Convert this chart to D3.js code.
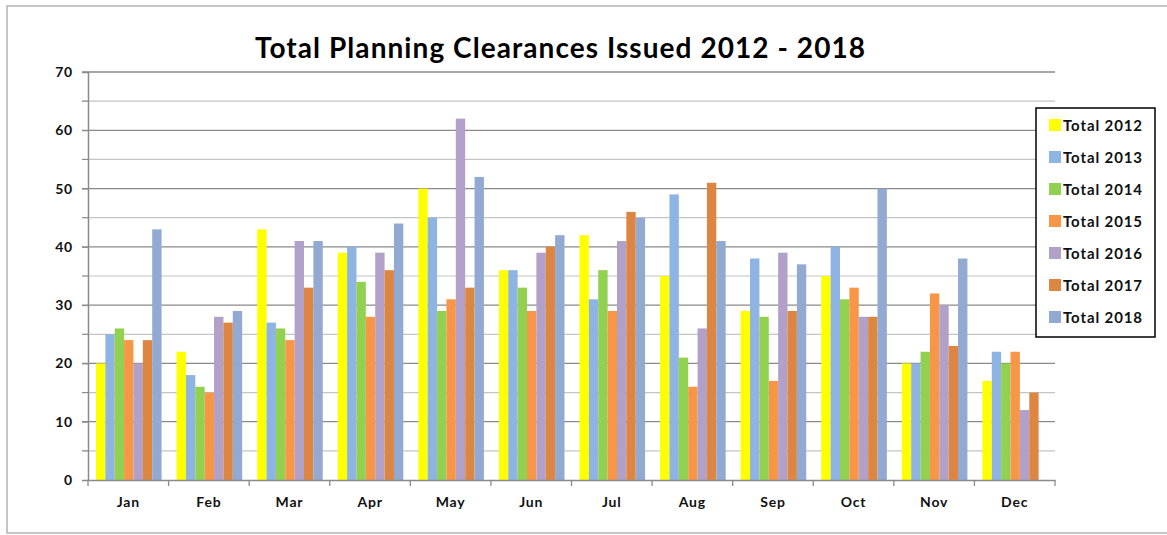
<!DOCTYPE html>
<html>
<head>
<meta charset="utf-8">
<script src="https://cdn.jsdelivr.net/npm/d3@7"></script>
<style>
  body { margin: 0; background: #fff; }
  text { font-family: Lato, "Open Sans", sans-serif; }
</style>
</head>
<body>
<div class="canvas"></div>
<script>
// data
const months = ['Jan', 'Feb', 'Mar', 'Apr', 'May', 'Jun', 'Jul', 'Aug', 'Sep', 'Oct', 'Nov', 'Dec'];
const seriesNames = ['Total 2012', 'Total 2013', 'Total 2014', 'Total 2015', 'Total 2016', 'Total 2017', 'Total 2018'];
const total2012 = [20, 22, 43, 39, 50, 36, 42, 35, 29, 35, 20, 17];
const total2013 = [25, 18, 27, 40, 45, 36, 31, 49, 38, 40, 20, 22];
const total2014 = [26, 16, 26, 34, 29, 33, 36, 21, 28, 31, 22, 20];
const total2015 = [24, 15, 24, 28, 31, 29, 29, 16, 17, 33, 32, 22];
const total2016 = [20, 28, 41, 39, 62, 39, 41, 26, 39, 28, 30, 12];
const total2017 = [24, 27, 33, 36, 33, 40, 46, 51, 29, 28, 23, 15];
const total2018 = [43, 29, 41, 44, 52, 42, 45, 41, 37, 50, 38, 0];
const yTicks = [0, 10, 20, 30, 40, 50, 60, 70];
const colors = ['#ffff00', '#8db4e2', '#92d050', '#f79646', '#b1a0c7', '#dc8642', '#92a9d1'];

const allSeries = [total2012, total2013, total2014, total2015, total2016, total2017, total2018];

const width = 1167, height = 535;
const margin = { top: 72, right: 112, bottom: 55, left: 88 };
const graphWidth = width - margin.left - margin.right;
const graphHeight = height - margin.top - margin.bottom;

const svg = d3.select('.canvas')
  .append('svg')
  .attr('width', width)
  .attr('height', height);

// outer chart frame
svg.append('rect')
  .attr('x', 7).attr('y', 6)
  .attr('width', width + 10).attr('height', 527)
  .attr('fill', 'none')
  .attr('stroke', '#b3b3b3')
  .attr('stroke-width', 1.5);

svg.append('text')
  .attr('x', 255).attr('y', 58)
  .attr('font-size', 28)
  .attr('font-weight', 'bold')
  .attr('fill', '#000')
  .attr('textLength', 610)
  .attr('lengthAdjust', 'spacing')
  .text('Total Planning Clearances Issued 2012 - 2018');

const graph = svg.append('g')
  .attr('transform', `translate(${margin.left}, ${margin.top})`);

//scales
const y = d3.scaleLinear().domain([0, 70]).range([graphHeight, 0]);
const x = d3.scaleBand().domain(months).range([0, graphWidth]).paddingInner(0).paddingOuter(0);
const xs = d3.scaleBand().domain(seriesNames).range([8, x.bandwidth() - 7]).padding(0);

// gridlines, minor then major
const minor = d3.range(5, 70, 10);
graph.selectAll('.minor').data(minor).enter().append('line')
  .attr('x1', -6).attr('x2', graphWidth)
  .attr('y1', d => y(d)).attr('y2', d => y(d))
  .attr('stroke', '#c4c4c4').attr('stroke-width', 1.2);
graph.selectAll('.major').data(yTicks.slice(1)).enter().append('line')
  .attr('x1', -6).attr('x2', graphWidth)
  .attr('y1', d => y(d)).attr('y2', d => y(d))
  .attr('stroke', '#8a8a8a').attr('stroke-width', 1.3);

// bars
const groups = graph.selectAll('.month')
  .data(months)
  .enter().append('g')
  .attr('transform', d => `translate(${x(d)}, 0)`);

groups.selectAll('rect')
  .data((m, i) => allSeries.map((s, k) => ({ name: seriesNames[k], value: s[i], color: colors[k] })))
  .enter().append('rect')
  .attr('x', d => xs(d.name))
  .attr('width', xs.bandwidth())
  .attr('y', d => y(d.value))
  .attr('height', d => graphHeight - y(d.value))
  .attr('fill', d => d.color);

// axes
const yAxis = d3.axisLeft(y).tickValues(yTicks).tickSize(6).tickPadding(9);
const yAxisGroup = graph.append('g').call(yAxis);
yAxisGroup.select('.domain').attr('stroke', '#8a8a8a').attr('stroke-width', 1.5);
yAxisGroup.selectAll('line').attr('stroke', '#8a8a8a');
yAxisGroup.selectAll('text')
  .attr('font-size', 14).attr('font-weight', 'bold')
  .attr('letter-spacing', 0.8)
  .attr('font-family', 'Lato, sans-serif').attr('fill', '#111');
// minor ticks on y axis
graph.selectAll('.ymin').data(minor).enter().append('line')
  .attr('x1', -6).attr('x2', 0)
  .attr('y1', d => y(d)).attr('y2', d => y(d))
  .attr('stroke', '#8a8a8a');

const xAxisGroup = graph.append('g')
  .attr('transform', `translate(0, ${graphHeight})`);
const xAxis = d3.axisBottom(x).tickSize(0).tickPadding(17);
xAxisGroup.call(xAxis);
xAxisGroup.select('.domain').attr('stroke', '#8a8a8a').attr('stroke-width', 1.5);
xAxisGroup.selectAll('text')
  .attr('font-size', 14).attr('font-weight', 'bold')
  .attr('letter-spacing', 0.8)
  .attr('font-family', 'Lato, sans-serif').attr('fill', '#111');
// category separators
xAxisGroup.selectAll('.sep').data(months.concat(['end'])).enter().append('line')
  .attr('x1', (d, i) => i * x.step()).attr('x2', (d, i) => i * x.step())
  .attr('y1', 0).attr('y2', 6)
  .attr('stroke', '#8a8a8a').attr('stroke-width', 1.3);

// legend
const legend = svg.append('g').attr('transform', 'translate(1036, 108)');
legend.append('rect')
  .attr('width', 119).attr('height', 229)
  .attr('fill', '#fff')
  .attr('stroke', '#000').attr('stroke-width', 1.5);
const items = legend.selectAll('.item').data(seriesNames).enter().append('g')
  .attr('transform', (d, i) => `translate(13, ${17 + i * 32})`);
items.append('rect')
  .attr('x', 0).attr('y', -6).attr('width', 12).attr('height', 12)
  .attr('fill', (d, i) => colors[i]);
items.append('text')
  .attr('x', 14).attr('y', 6)
  .attr('font-size', 15).attr('font-weight', 'bold')
  .attr('fill', '#111')
  .attr('textLength', 79)
  .attr('lengthAdjust', 'spacing')
  .text(d => d);
</script>
</body>
</html>
